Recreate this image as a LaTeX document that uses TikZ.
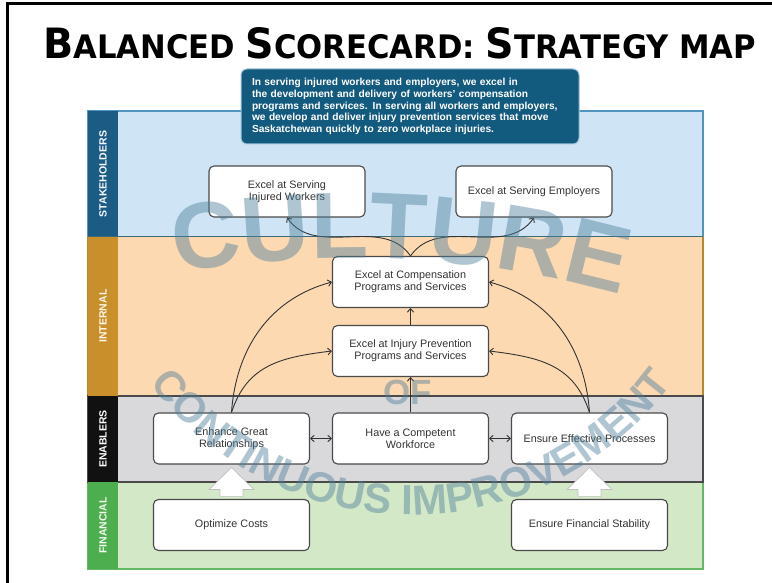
\documentclass[tikz,border=0pt]{standalone}
\usepackage{fontspec}
\setmainfont{Liberation Sans}
\newfontfamily\titlefont{DejaVu Sans}
\usetikzlibrary{arrows.meta,decorations.text,calc}
\definecolor{stkfill}{HTML}{CFE5F6}
\definecolor{stkline}{HTML}{4F95C0}
\definecolor{stkstrip}{HTML}{1C5B84}
\definecolor{sepline}{HTML}{3B6B78}
\definecolor{intfill}{HTML}{FDD9B2}
\definecolor{intline}{HTML}{B8882E}
\definecolor{intstrip}{HTML}{C98F2B}
\definecolor{enafill}{HTML}{D9D9DC}
\definecolor{enaline}{HTML}{4A4A4A}
\definecolor{enastrip}{HTML}{111111}
\definecolor{finfill}{HTML}{D3E8C7}
\definecolor{finline}{HTML}{63B865}
\definecolor{finstrip}{HTML}{4CAE4F}
\definecolor{misfill}{HTML}{135A7F}
\definecolor{misline}{HTML}{9CC3D6}
\definecolor{boxline}{HTML}{4A4A4A}
\definecolor{boxtext}{HTML}{333333}
\definecolor{wm}{HTML}{4F7F9B}
\newcommand\wmbig{\bfseries\fontsize{94}{94}\selectfont}
\newcommand\wmmid{\bfseries\fontsize{42}{42}\selectfont}
\newcommand\bigc{\fontsize{40}{40}\selectfont}
\newcommand\smallc{\fontsize{31}{31}\selectfont}
\begin{document}
\begin{tikzpicture}[x=1pt,y=1pt,
  objbox/.style={draw=boxline, line width=1.1pt, fill=white, rounded corners=5pt,
    minimum width=156pt, minimum height=51pt, align=center, text=boxtext,
    font=\fontsize{10.8}{12}\selectfont, inner sep=2pt},
  bandlabel/.style={rotate=90, font=\bfseries\fontsize{10.5}{11}\selectfont, inner sep=0pt},
  arr/.style={draw=boxtext, line width=0.9pt, -{Straight Barb[length=3.5pt,width=6.5pt]}},
  darr/.style={draw=boxtext, line width=0.9pt, {Straight Barb[length=3.5pt,width=6.5pt]}-{Straight Barb[length=3.5pt,width=6.5pt]}},
  blockarr/.style={fill=white, draw=black!25, line width=0.6pt, line join=miter}
]
\useasboundingbox (0,0) rectangle (772,583);
\fill[white] (0,0) rectangle (772,583);
\draw[line width=3pt] (7,0) -- (7,579) -- (772,579);

% title
\node[anchor=base west, inner sep=0pt] (title) at (43,524)
  {\resizebox{713pt}{31pt}{\titlefont\bfseries\bigc B\smallc ALANCED \bigc S\smallc CORECARD: \bigc S\smallc TRATEGY MAP}};

% bands
\draw[stkline, line width=1.1pt, fill=stkfill] (88,346.5) rectangle (703,472);
\draw[intline, line width=1.1pt, fill=intfill] (88,187) rectangle (703,346.5);
\draw[finline, line width=1.1pt, fill=finfill] (88,14) rectangle (703,101);
\draw[enaline, line width=1.3pt, fill=enafill] (88,101) rectangle (703,187);
\fill[stkstrip] (88,346.5) rectangle (118,472);
\fill[intstrip] (88,187) rectangle (118,346.5);
\fill[enastrip] (88,101) rectangle (118,187);
\fill[finstrip] (88,14) rectangle (118,101);
\draw[sepline, line width=1.1pt] (88,346.5) -- (703,346.5);

\node[bandlabel, text=white!85!stkfill] (lstk) at (103,409) {STAKEHOLDERS};
\node[bandlabel, text=white!75!intfill] (lint) at (103,267) {INTERNAL};
\node[bandlabel, text=white] (lena) at (103,144) {ENABLERS};
\node[bandlabel, text=white!75!finfill] (lfin) at (103,57.5) {FINANCIAL};

% mission box
\node[draw=misline, line width=1pt, fill=misfill, rounded corners=6pt, text=white,
  minimum width=338pt, minimum height=75pt, text width=316pt, inner xsep=11pt,
  align=left, font=\bfseries\fontsize{10.2}{11.8}\selectfont] (mis) at (410,476.5)
  {In serving injured workers and employers, we excel in\\
   the development and delivery of workers’ compensation\\
   programs and services. In serving all workers and employers,\\
   we develop and deliver injury prevention services that move\\
   Saskatchewan quickly to zero workplace injuries.};

% objective boxes
\node[objbox] (iw) at (287,391.5) {Excel at Serving\\Injured Workers};
\node[objbox] (em) at (534,391.5) {Excel at Serving Employers};
\node[objbox] (comp) at (410.5,301) {Excel at Compensation\\Programs and Services};
\node[objbox] (prev) at (410.5,232) {Excel at Injury Prevention\\Programs and Services};
\node[objbox] (egr) at (231.5,144.5) {Enhance Great\\Relationships};
\node[objbox] (wf) at (410.5,144.5) {Have a Competent\\Workforce};
\node[objbox] (eep) at (589.5,144.5) {Ensure Effective Processes};
\node[objbox] (oc) at (231.5,58) {Optimize Costs};
\node[objbox] (efs) at (589.5,58) {Ensure Financial Stability};

% connectors
\draw[arr] (comp.north) to[out=125,in=-55] (iw.south);
\draw[arr] (comp.north) to[out=55,in=235] (em.south);
\draw[arr] (prev.north) -- (comp.south);
\draw[arr] (wf.north) -- (prev.south);
\draw[arr] (egr.north) to[out=86,in=195] (comp.west);
\draw[arr] (egr.north) to[out=72,in=187,looseness=1.1] (prev.west);
\draw[arr] (eep.north) to[out=94,in=-15] (comp.east);
\draw[arr] (eep.north) to[out=108,in=-7,looseness=1.1] (prev.east);
\draw[darr] (egr.east) -- (wf.west);
\draw[darr] (wf.east) -- (eep.west);

% block arrows
\foreach \lo/\hi in {oc/egr, efs/eep}{
  \draw[blockarr] ($(\lo.north)+(-11.5,2.5)$) -- ($(\hi.south)+(-11.5,-25)$)
    -- ($(\hi.south)+(-22.5,-25)$) -- ($(\hi.south)+(0,-3)$)
    -- ($(\hi.south)+(22.5,-25)$) -- ($(\hi.south)+(11.5,-25)$)
    -- ($(\lo.north)+(11.5,2.5)$) -- cycle;
}

% watermark
\begin{scope}[opacity=0.45, text opacity=0.45]
\coordinate (ca) at (350,-679);
\coordinate (cb) at (411,392);
\path[decorate, decoration={text along path, text color=wm, text align=center,
  text={|\wmbig|CULTURE}}]
  ($(ca)+(107.15:1004)$) arc[start angle=107.15, end angle=67.15, radius=1004];
\path[decorate, decoration={text along path, text color=wm, text align=center,
  text={|\wmmid|CONTINUOUS IMPROVEMENT}}]
  ($(cb)+(190:324)$) arc[start angle=190, end angle=350, radius=324];
\node[text=wm, font=\bfseries\fontsize{35}{35}\selectfont, inner sep=0pt] (of) at (408,191) {OF};
\end{scope}
\end{tikzpicture}
\end{document}
